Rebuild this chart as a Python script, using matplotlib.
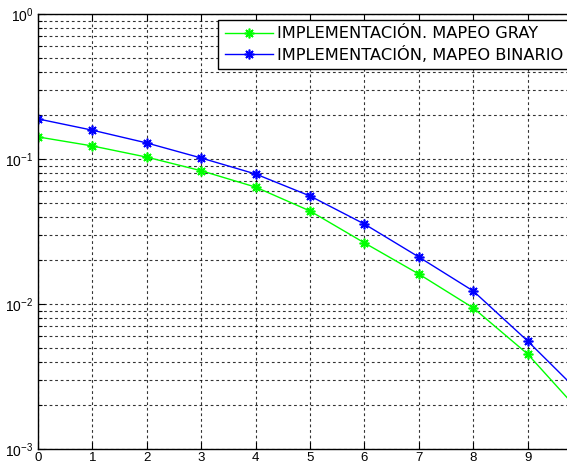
import matplotlib
matplotlib.use("Agg")
import matplotlib.pyplot as plt
from matplotlib.ticker import LogLocator, NullFormatter

snr = [0, 1, 2, 3, 4, 5, 6, 7, 8, 9, 10]
ber_gray = [0.142, 0.123, 0.103, 0.083, 0.064, 0.0438, 0.0264, 0.0161, 0.0094, 0.00452, 0.00174]
ber_bin = [0.189, 0.158, 0.129, 0.1016, 0.0788, 0.0556, 0.0356, 0.0211, 0.0123, 0.00556, 0.00236]
labels = ["IMPLEMENTACIÓN. MAPEO GRAY", "IMPLEMENTACIÓN, MAPEO BINARIO"]
xticks = [0, 1, 2, 3, 4, 5, 6, 7, 8, 9]

plt.rcParams['font.family'] = ['Liberation Sans', 'DejaVu Sans']

fig = plt.figure(figsize=(5.67, 4.65), dpi=100)
ax = fig.add_axes([38/567, 1-449/465, 544/567, 435/465])

mk = (8, 2, 0)
ax.semilogy(snr, ber_gray, color=(0, 1, 0), marker=mk, markersize=7, markeredgewidth=1.2,
            linewidth=1.0, label=labels[0])
ax.semilogy(snr, ber_bin, color=(0, 0, 1), marker=mk, markersize=7, markeredgewidth=1.2,
            linewidth=1.0, label=labels[1])

ax.set_xlim(0, 10)
ax.set_ylim(1e-3, 1)
ax.set_xticks(xticks)
ax.yaxis.set_major_locator(LogLocator(base=10, numticks=10))
ax.yaxis.set_minor_locator(LogLocator(base=10, subs=range(2, 10), numticks=20))
ax.yaxis.set_minor_formatter(NullFormatter())

dash = (0, (2.5, 2.5))
ax.grid(True, which='major', axis='both', color='black', linestyle=dash, linewidth=0.8, alpha=0.8)
ax.grid(True, which='minor', axis='y', color='black', linestyle=dash, linewidth=0.8, alpha=0.8)

ax.tick_params(which='both', direction='in', top=True, right=True, width=0.8)
ax.tick_params(axis='y', labelsize=10)
ax.tick_params(axis='x', labelsize=9.5, pad=2)
ax.tick_params(which='major', length=5)
ax.tick_params(which='minor', length=3)
for s in ax.spines.values():
    s.set_linewidth(1.0)

leg = ax.legend(loc='upper left', bbox_to_anchor=(180/544, 1-6/435),
                prop={'family': 'DejaVu Sans', 'size': 11.7},
                frameon=True, fancybox=False, edgecolor='black', framealpha=1,
                borderpad=0.4, handlelength=3.0, handletextpad=0.25, labelspacing=0.25,
                borderaxespad=0)
leg.get_frame().set_linewidth(1.0)

fig.savefig("out.png", dpi=100)
